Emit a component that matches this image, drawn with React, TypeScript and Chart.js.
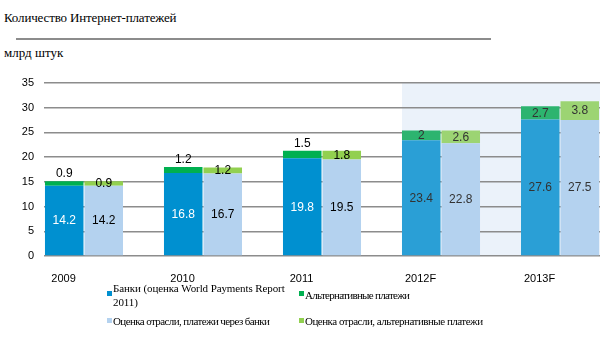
import React, { useEffect, useRef } from "react";
import { Chart, registerables } from "chart.js";

Chart.register(...registerables);

const categories = ["2009", "2010", "2011", "2012F", "2013F"];
const banks = [14.2, 16.8, 19.8, 23.4, 27.6];
const altPayments = [0.9, 1.2, 1.5, 2, 2.7];
const industryBanks = [14.2, 16.7, 19.5, 22.8, 27.5];
const industryAlt = [0.9, 1.2, 1.8, 2.6, 3.8];
const yTicks = [0, 5, 10, 15, 20, 25, 30, 35];
const forecastFrom = 3;

const legendItems = [
  { color: "#0090D0", text: "Банки (оценка World Payments Report 2011)" },
  { color: "#00B050", text: "Альтернативные платежи" },
  { color: "#B4D2EF", text: "Оценка отрасли, платежи через банки" },
  { color: "#92D050", text: "Оценка отрасли, альтернативные платежи" },
];

const pastOrFuture = (past: string, future: string) =>
  categories.map((_, i) => (i < forecastFrom ? past : future));

const toPoints = (arr: number[]) => arr.map((v, i) => ({ x: i, y: v }));

const forecastBg = {
  id: "forecastBg",
  beforeDraw(chart: any) {
    const { ctx, chartArea } = chart;
    const meta = chart.getDatasetMeta(0);
    const el = meta.data[forecastFrom];
    if (!el) return;
    const p = el.getProps(["x", "width"], true);
    const x0 = p.x - p.width / 2;
    ctx.save();
    ctx.fillStyle = "#EBF2FA";
    ctx.fillRect(x0, chartArea.top, chartArea.right - x0, chartArea.bottom - chartArea.top);
    ctx.restore();
  },
};

const valueLabels = {
  id: "valueLabels",
  afterDatasetsDraw(chart: any) {
    const { ctx } = chart;
    ctx.save();
    ctx.font = "12px 'Liberation Sans', Arial, sans-serif";
    ctx.textAlign = "center";
    chart.data.datasets.forEach((ds: any, di: number) => {
      const meta = chart.getDatasetMeta(di);
      meta.data.forEach((el: any, i: number) => {
        const p = el.getProps(["x", "y", "base"], true);
        const v = ds.data[i].y;
        const future = i >= forecastFrom;
        let color = "#000";
        let y = (p.y + p.base) / 2;
        ctx.textBaseline = "middle";
        if (di === 0) color = future ? "#333" : "#fff";
        if (di === 1) {
          if (!future) {
            y = p.y - 2;
            ctx.textBaseline = "bottom";
          }
          color = future ? "#333" : "#000";
        }
        if (di >= 2) color = future ? "#333" : "#000";
        ctx.fillStyle = color;
        ctx.fillText(String(v), p.x, y + 0.5);
      });
    });
    ctx.restore();
  },
};

function ChartCanvas() {
  const ref = useRef<HTMLCanvasElement | null>(null);
  useEffect(() => {
    if (!ref.current) return;
    const tickFont = { family: "'Liberation Sans', Arial, sans-serif", size: 11 };
    const chart = new Chart(ref.current, {
      type: "bar",
      data: {
        datasets: [
          {
            label: "banks",
            data: toPoints(banks),
            backgroundColor: pastOrFuture("#0090D0", "#2A9FD6"),
            stack: "a",
          },
          {
            label: "alt",
            data: toPoints(altPayments),
            backgroundColor: pastOrFuture("#00B050", "#2DB46F"),
            stack: "a",
          },
          {
            label: "indBanks",
            data: toPoints(industryBanks),
            backgroundColor: pastOrFuture("#B4D2EF", "#B4D2EF"),
            stack: "b",
          },
          {
            label: "indAlt",
            data: toPoints(industryAlt),
            backgroundColor: pastOrFuture("#92D050", "#9CD473"),
            stack: "b",
          },
        ] as any,
      },
      options: {
        responsive: false,
        animation: false,
        events: [],
        categoryPercentage: 0.664,
        barPercentage: 0.975,
        layout: { padding: { top: 83, right: 12, left: 0, bottom: 0 } },
        plugins: { legend: { display: false }, tooltip: { enabled: false } },
        scales: {
          x: {
            type: "linear",
            stacked: true,
            offset: false,
            bounds: "data",
            min: -0.336,
            max: 4.336,
            grid: { display: false, offset: false },
            border: { display: false },
            afterDataLimits: (s: any) => {
              s.min = -0.336;
              s.max = 4.336;
            },
            afterBuildTicks: (axis: any) => {
              axis.ticks = categories.map((_, i) => ({ value: i - 0.172 }));
            },
            afterFit: (s: any) => {
              s.height = 34;
            },
            ticks: {
              autoSkip: false,
              maxRotation: 0,
              padding: 8,
              color: "#000",
              font: tickFont,
              callback: (_v: any, idx: number) => categories[idx],
            },
          },
          y: {
            stacked: true,
            min: 0,
            max: 35,
            afterBuildTicks: (axis: any) => {
              axis.ticks = yTicks.map((v) => ({ value: v }));
            },
            afterFit: (s: any) => {
              s.width = 44;
            },
            grid: { color: "#8C8C8C", lineWidth: 1.5, drawTicks: false },
            border: { display: false },
            ticks: { padding: 10, color: "#000", font: tickFont },
          },
        },
      } as any,
      plugins: [forecastBg, valueLabels],
    });
    return () => chart.destroy();
  }, []);
  return (
    <canvas
      ref={ref}
      width={612}
      height={290}
      style={{ position: "absolute", left: 0, top: 0, width: 612, height: 290 }}
    />
  );
}

export default function App() {
  const serif = "'Liberation Serif', 'Times New Roman', serif";
  const legendPos = [
    { left: 107, top: 281, sq: 291, w: 180, ls: -0.1 },
    { left: 299, top: 288, sq: 291, w: 240, ls: -0.7 },
    { left: 107, top: 314, sq: 318, w: 240, ls: -0.6 },
    { left: 299, top: 314, sq: 318, w: 260, ls: -0.5 },
  ];
  return (
    <div
      style={{
        position: "fixed",
        left: 0,
        top: 0,
        width: 612,
        height: 354,
        background: "#fff",
        overflow: "hidden",
        fontFamily: serif,
      }}
    >
      <div style={{ position: "absolute", left: 4, top: 11, fontSize: 13, lineHeight: "14px", letterSpacing: "-0.15px", color: "#000" }}>
        Количество Интернет-платежей
      </div>
      <div style={{ position: "absolute", left: 16, top: 38, width: 475, height: 2, background: "#8C8C8C" }} />
      <div style={{ position: "absolute", left: 4, top: 46, fontSize: 13, lineHeight: "14px", color: "#000" }}>
        млрд штук
      </div>
      <ChartCanvas />
      {legendItems.map((item, i) => {
        const pos = legendPos[i];
        return (
          <React.Fragment key={i}>
            <div
              style={{
                position: "absolute",
                left: pos.left,
                top: pos.sq,
                width: 5,
                height: 5,
                background: item.color,
              }}
            />
            <div
              style={{
                position: "absolute",
                left: pos.left + 6,
                top: pos.top,
                width: pos.w,
                fontSize: 11,
                lineHeight: "14px",
                letterSpacing: `${pos.ls}px`,
                color: "#000",
              }}
            >
              {item.text}
            </div>
          </React.Fragment>
        );
      })}
    </div>
  );
}
